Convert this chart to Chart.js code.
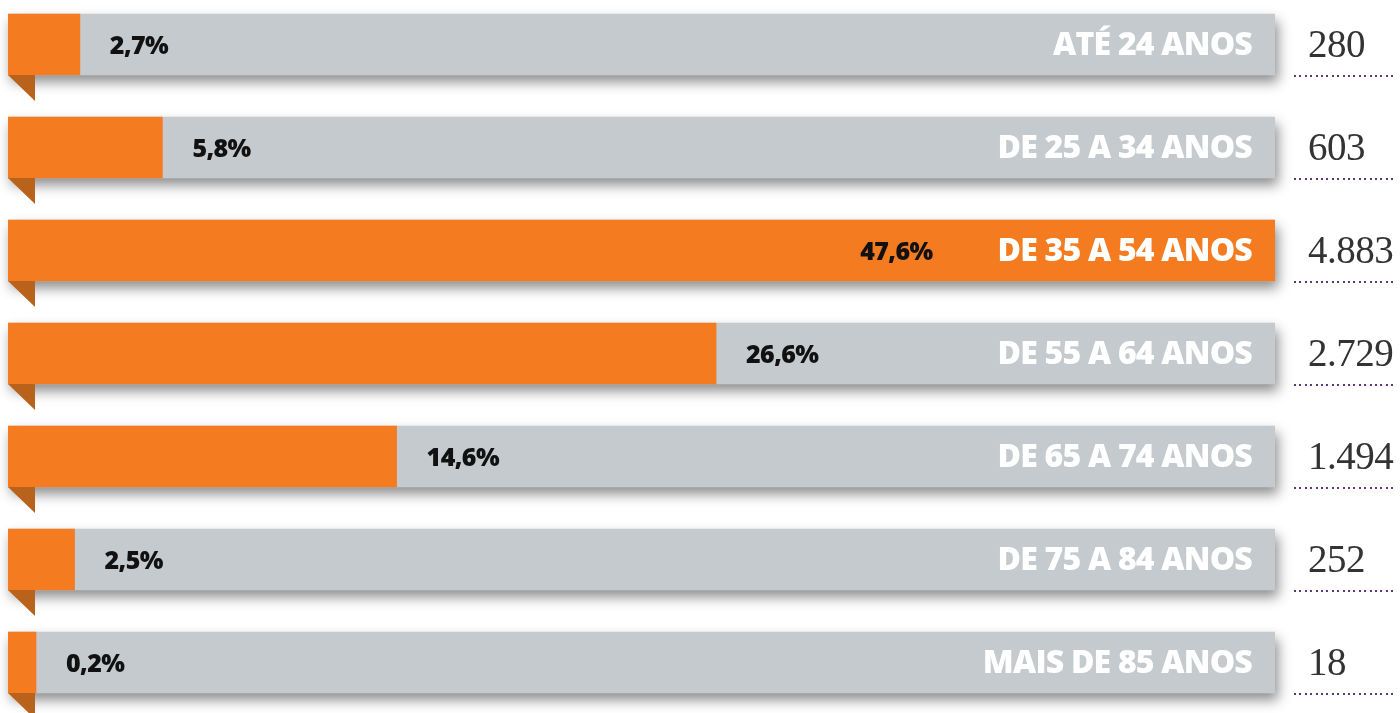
<!DOCTYPE html>
<html>
<head>
  <meta charset="utf-8">
  <title>Faixa etária</title>
  <script src="https://cdn.jsdelivr.net/npm/chart.js@4.4.1/dist/chart.umd.min.js"></script>
  <style>
    html, body { margin: 0; padding: 0; background: #fff; overflow: hidden; }
    #wrap { position: absolute; left: 0; top: -7px; width: 1400px; height: 721px; }
  </style>
</head>
<body>
<div id="wrap"><canvas id="myChart"></canvas></div>
<script>
// data
const faixas = ['ATÉ 24 ANOS', 'DE 25 A 34 ANOS', 'DE 35 A 54 ANOS', 'DE 55 A 64 ANOS',
                'DE 65 A 74 ANOS', 'DE 75 A 84 ANOS', 'MAIS DE 85 ANOS'];
const percentuais = [2.7, 5.8, 47.6, 26.6, 14.6, 2.5, 0.2];
const totais = [280, 603, 4883, 2729, 1494, 252, 18];
const axisMax = 47.6;

const ORANGE = '#F47B20';
const GREY = '#C4CACD';
const FOLD = '#B8621C';

function fmtPct(v) { return v.toFixed(1).replace('.', ',') + '%'; }
function fmtInt(v) { return String(v).replace(/\B(?=(\d{3})+(?!\d))/g, '.'); }

const decor = {
  id: 'decor',
  beforeDatasetsDraw(chart) {
    const ctx = chart.ctx;
    const track = chart.getDatasetMeta(1).data;
    track.forEach(bar => {
      const top = bar.y - bar.height / 2;
      ctx.save();
      ctx.shadowColor = 'rgba(0,0,0,0.45)';
      ctx.shadowBlur = 12;
      ctx.shadowOffsetX = 3;
      ctx.shadowOffsetY = 7;
      ctx.fillStyle = GREY;
      ctx.fillRect(bar.base, top, bar.x - bar.base, bar.height);
      ctx.restore();
    });
  },
  afterDatasetsDraw(chart) {
    const ctx = chart.ctx;
    const track = chart.getDatasetMeta(1).data;
    const share = chart.getDatasetMeta(0).data;
    ctx.save();
    track.forEach((bar, i) => {
      const bottom = bar.y + bar.height / 2;
      // folded corner
      ctx.fillStyle = FOLD;
      ctx.beginPath();
      ctx.moveTo(bar.base, bottom);
      ctx.lineTo(bar.base + 27, bottom);
      ctx.lineTo(bar.base + 27, bottom + 26);
      ctx.closePath();
      ctx.fill();

      // category label
      ctx.font = '800 32px "Open Sans"';
      ctx.letterSpacing = '-0.8px';
      ctx.fillStyle = '#fff';
      ctx.textAlign = 'right';
      ctx.textBaseline = 'middle';
      const labelRight = bar.x - 23;
      ctx.fillText(faixas[i], labelRight, bar.y + 1);
      const labelW = ctx.measureText(faixas[i]).width;

      // percent label
      const s = share[i];
      const txt = fmtPct(percentuais[i]);
      ctx.font = '800 25px "Open Sans"';
      ctx.letterSpacing = '-0.6px';
      ctx.fillStyle = '#111';
      if (s.x + 30 + ctx.measureText(txt).width > labelRight - labelW - 20) {
        ctx.textAlign = 'right';
        ctx.fillText(txt, labelRight - labelW - 65, bar.y + 2);
      } else {
        ctx.textAlign = 'left';
        ctx.fillText(txt, s.x + 30, bar.y + 2);
      }

      // totals on the right
      ctx.font = '300 39px "Liberation Serif"';
      ctx.letterSpacing = '-0.5px';
      ctx.fillStyle = '#333';
      ctx.textAlign = 'left';
      ctx.fillText(fmtInt(totais[i]), bar.x + 33, bar.y + 2);

      // dotted rule
      ctx.fillStyle = '#5B3A7A';
      for (let dx = bar.x + 19; dx < 1396; dx += 5.4) {
        ctx.fillRect(Math.round(dx), Math.round(bottom), 2, 2);
      }
    });
    ctx.restore();
  }
};

const ctx = document.getElementById('myChart').getContext('2d');
const myChart = new Chart(ctx, {
  type: 'bar',
  data: {
    labels: faixas,
    datasets: [
      {
        data: percentuais,
        backgroundColor: ORANGE,
        barThickness: 61,
        minBarLength: 28,
        grouped: false,
        order: 0
      },
      {
        data: faixas.map(() => axisMax),
        backgroundColor: GREY,
        barThickness: 61,
        grouped: false,
        order: 1
      }
    ]
  },
  plugins: [decor],
  options: {
    indexAxis: 'y',
    responsive: true,
    maintainAspectRatio: false,
    animation: false,
    layout: { padding: { left: 8, right: 125, top: 0, bottom: 0 } },
    plugins: { legend: { display: false }, tooltip: { enabled: false } },
    scales: {
      x: { display: false, min: 0, max: axisMax },
      y: { display: false }
    }
  }
});
</script>
</body>
</html>
